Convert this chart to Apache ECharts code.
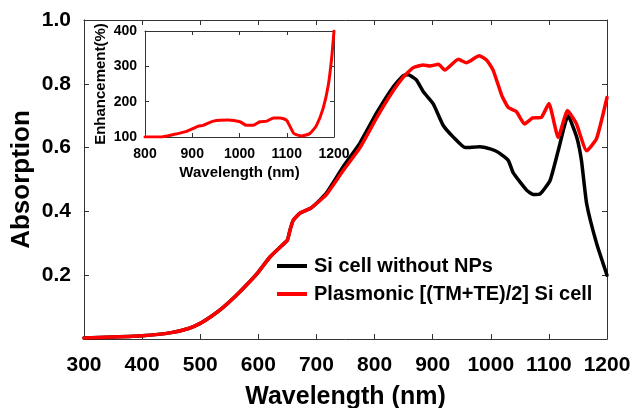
<!DOCTYPE html>
<html>
<head>
<meta charset="utf-8">
<script src="https://cdn.jsdelivr.net/npm/echarts@6/dist/echarts.min.js"></script>
<style>
html,body{margin:0;padding:0;background:#fff;}
#chart{width:633px;height:408px;}
</style>
</head>
<body>
<div id="chart"></div>
<script>
// ---- data ----
var blackWl  = [300,350,400,450,480,500,520,540,560,580,600,620,640,650,655,660,672,690,706,718,746,775,804,832,849,858,872,884,901,918,936,956,981,999,1013,1030,1039,1062,1073,1085,1102,1116,1133,1148,1156,1165,1182,1200];
var blackAbs = [0.003,0.006,0.010,0.020,0.033,0.049,0.072,0.100,0.133,0.170,0.210,0.257,0.292,0.310,0.345,0.372,0.395,0.410,0.436,0.460,0.540,0.615,0.710,0.790,0.825,0.828,0.812,0.775,0.737,0.670,0.632,0.600,0.603,0.596,0.585,0.560,0.520,0.466,0.453,0.455,0.497,0.590,0.700,0.632,0.560,0.424,0.300,0.200];

var redWl  = [300,350,400,450,480,500,520,540,560,580,600,620,640,650,655,660,672,690,706,718,746,775,804,832,849,858,867,884,895,910,921,944,958,980,993,1004,1019,1030,1044,1058,1072,1087,1100,1116,1132,1147,1165,1182,1200];
var redAbs = [0.003,0.006,0.010,0.020,0.033,0.049,0.072,0.100,0.133,0.170,0.210,0.257,0.292,0.310,0.345,0.372,0.395,0.410,0.434,0.455,0.528,0.600,0.695,0.778,0.820,0.837,0.851,0.859,0.856,0.861,0.843,0.877,0.866,0.888,0.874,0.843,0.763,0.726,0.713,0.674,0.693,0.695,0.738,0.632,0.716,0.676,0.590,0.628,0.757];

var insetWl  = [800,832,860,888,912,923,945,976,1001,1015,1029,1043,1058,1072,1086,1100,1115,1132,1149,1163,1177,1188,1195,1200];
var insetEnh = [100,100,107,116,130,133,145,148,143,133,133,143,145,154,154,147,110,103,110,133,181,247,323,400];

var seriesNames = ['Si cell without NPs', 'Plasmonic [(TM+TE)/2] Si cell'];
var mainXTicks = [300,1200,100];
var mainYTicks = [0,1,0.2];
var insetXTicks = [800,1200,100];
var insetYTicks = [100,400,100];

function pairs(xs, ys){ return xs.map(function(x,i){ return [x, ys[i]]; }); }

var FONT = '"Liberation Sans", Arial, Helvetica, sans-serif';
var AX = '#333';

function mkAxis(o){
  var base = {
    axisLine:{show:true,onZero:false,lineStyle:{color:AX,width:1}},
    axisTick:{show:true,inside:true,length:o.tickLen||5,lineStyle:{color:AX,width:1}},
    splitLine:{show:false},
    axisLabel:{show:false}
  };
  for (var k in o) base[k]=o[k];
  return base;
}
function plain(v){ return String(v); }

var chart = echarts.init(document.getElementById('chart'), null, {renderer:'canvas'});
chart.setOption({
  backgroundColor:'#fff',
  animation:false,
  textStyle:{fontFamily:FONT},
  grid:[
    {left:84, right:26, top:20, bottom:69, containLabel:false, outerBoundsMode:'none'},
    {left:145, right:299, top:31, bottom:271, containLabel:false, outerBoundsMode:'none'}
  ],
  legend:{
    data:seriesNames,
    orient:'vertical',
    left:277, top:256, padding:0,
    itemWidth:30, itemHeight:4, itemGap:8,
    icon:'rect',
    textStyle:{fontFamily:FONT,fontSize:20,fontWeight:'bold',color:'#000',padding:[0,0,0,2]}
  },
  xAxis:[
    mkAxis({type:'value',gridIndex:0,position:'bottom',min:mainXTicks[0],max:mainXTicks[1],interval:mainXTicks[2],
      axisLabel:{show:true,margin:16,fontFamily:FONT,fontSize:21,fontWeight:'bold',color:'#000',formatter:plain},
      name:'Wavelength (nm)',nameLocation:'middle',nameGap:46,
      nameTextStyle:{fontFamily:FONT,fontSize:25,fontWeight:'bold',color:'#000'}}),
    mkAxis({type:'value',gridIndex:0,position:'top',min:mainXTicks[0],max:mainXTicks[1],interval:mainXTicks[2]}),
    mkAxis({type:'value',gridIndex:1,position:'bottom',min:insetXTicks[0],max:insetXTicks[1],interval:insetXTicks[2],tickLen:4,
      axisLabel:{show:true,margin:10,fontFamily:FONT,fontSize:14,fontWeight:'bold',color:'#000',formatter:plain},
      name:'Wavelength (nm)',nameLocation:'middle',nameGap:28,
      nameTextStyle:{fontFamily:FONT,fontSize:15,fontWeight:'bold',color:'#000'}}),
    mkAxis({type:'value',gridIndex:1,position:'top',min:insetXTicks[0],max:insetXTicks[1],interval:insetXTicks[2],tickLen:4})
  ],
  yAxis:[
    mkAxis({type:'value',gridIndex:0,position:'left',min:mainYTicks[0],max:mainYTicks[1],interval:mainYTicks[2],
      axisLabel:{show:true,margin:13,fontFamily:FONT,fontSize:21,fontWeight:'bold',color:'#000',
        formatter:function(v){ return v===0 ? '' : v.toFixed(1); }},
      name:'Absorption',nameLocation:'middle',nameGap:49,nameMoveOverlap:false,
      nameTextStyle:{fontFamily:FONT,fontSize:26,fontWeight:'bold',color:'#000'}}),
    mkAxis({type:'value',gridIndex:0,position:'right',min:mainYTicks[0],max:mainYTicks[1],interval:mainYTicks[2]}),
    mkAxis({type:'value',gridIndex:1,position:'left',min:insetYTicks[0],max:insetYTicks[1],interval:insetYTicks[2],tickLen:4,
      axisLabel:{show:true,margin:8,fontFamily:FONT,fontSize:14,fontWeight:'bold',color:'#000',formatter:plain},
      name:'Enhancement(%)',nameLocation:'middle',nameGap:37,
      nameTextStyle:{fontFamily:FONT,fontSize:15,fontWeight:'bold',color:'#000'}}),
    mkAxis({type:'value',gridIndex:1,position:'right',min:insetYTicks[0],max:insetYTicks[1],interval:insetYTicks[2],tickLen:4})
  ],
  series:[
    {name:seriesNames[0],type:'line',xAxisIndex:0,yAxisIndex:0,data:pairs(blackWl,blackAbs),
      showSymbol:false,smooth:0.15,color:'#000',lineStyle:{color:'#000',width:3.5,cap:'round',join:'round'},z:3},
    {name:seriesNames[1],type:'line',xAxisIndex:0,yAxisIndex:0,data:pairs(redWl,redAbs),
      showSymbol:false,smooth:0.15,color:'#ff0000',lineStyle:{color:'#ff0000',width:3.5,cap:'round',join:'round'},z:4},
    {name:'inset',type:'line',xAxisIndex:2,yAxisIndex:2,data:pairs(insetWl,insetEnh),
      showSymbol:false,smooth:0.2,color:'#ff0000',lineStyle:{color:'#ff0000',width:3,cap:'round',join:'round'},z:4}
  ]
});
</script>
</body>
</html>
